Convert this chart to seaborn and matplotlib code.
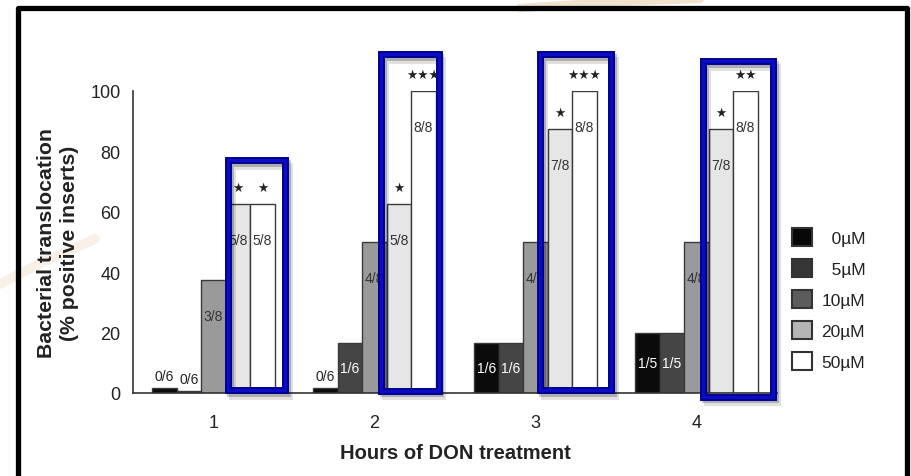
import numpy as np
import pandas as pd
import matplotlib
matplotlib.use("Agg")
import matplotlib.pyplot as plt
import matplotlib.patheffects as pe
from matplotlib.patches import Rectangle, Patch
from matplotlib.lines import Line2D
import seaborn as sns

# categories
hours = ["1", "2", "3", "4"]
doses = ["0µM", "5µM", "10µM", "20µM", "50µM"]

# % positive inserts per dose (0/6 is drawn as a thin sliver in the original)
pct_0 = [1.5, 1.5, 16.7, 20.0]
pct_5 = [0.5, 16.7, 16.7, 20.0]
pct_10 = [37.5, 50.0, 50.0, 50.0]
pct_20 = [62.5, 62.5, 87.5, 87.5]
pct_50 = [62.5, 100.0, 100.0, 100.0]

# counts written on the bars
lab_0 = ["0/6", "0/6", "1/6", "1/5"]
lab_5 = ["0/6", "1/6", "1/6", "1/5"]
lab_10 = ["3/8", "4/8", "4/8", "4/8"]
lab_20 = ["5/8", "5/8", "7/8", "7/8"]
lab_50 = ["5/8", "8/8", "8/8", "8/8"]

# significance marks
stars_20 = ["★", "★", "★", "★"]
stars_50 = ["★", "★★★", "★★★", "★★"]

# hand drawn blue highlight boxes (data units)
box_left = [0.093, 1.043, 2.031, 3.043]
box_right = [0.447, 1.398, 2.472, 3.478]
box_top = [77.0, 112.1, 112.1, 109.8]
box_bottom = [1.0, 0.8, 1.0, -1.2]

bar_cols = ["#0b0b0b", "#454545", "#9a9a9a", "#e6e6e6", "#ffffff"]
legend_cols = ["#080808", "#363636", "#5c5c5c", "#b5b5b5", "#ffffff"]

sns.set_style("white")
plt.rcParams["font.family"] = ["Liberation Sans", "DejaVu Sans"]

df = pd.DataFrame({
    "hour": hours * 5,
    "dose": np.repeat(doses, 4),
    "pct": pct_0 + pct_5 + pct_10 + pct_20 + pct_50,
})

fig = plt.figure(figsize=(9.11, 4.77), dpi=100)

# faint background swooshes of the slide
fig.add_artist(Line2D([0, 45/911, 95/911], [1-285/477, 1-262/477, 1-240/477],
                      transform=fig.transFigure, color="#e9cfae", lw=7, alpha=0.3,
                      solid_capstyle="round", zorder=0))
fig.add_artist(Line2D([520/911, 610/911, 700/911], [1-9/477, 1-3/477, 1.0],
                      transform=fig.transFigure, color="#e9cfae", lw=6, alpha=0.6, zorder=0))

# black slide frame
fig.add_artist(Line2D([17.5/911, 17.5/911, 907/911, 907/911],
                      [0, 1-9/477, 1-9/477, 0], transform=fig.transFigure,
                      color="black", lw=3.8, solid_joinstyle="round", zorder=1))

ax = fig.add_axes([133/911, 83/477, 644/911, 302/477])
ax.set_facecolor("none")

sns.barplot(data=df, x="hour", y="pct", hue="dose", order=hours, hue_order=doses,
            palette=dict(zip(doses, bar_cols)), width=0.76, gap=0, errorbar=None,
            edgecolor="#3a3a3a", linewidth=1.0, legend=False, ax=ax, zorder=2)

labels = [lab_0, lab_5, lab_10, lab_20, lab_50]
for i, cont in enumerate(ax.containers):
    for bar, txt in zip(cont, labels[i]):
        h = bar.get_height()
        xc = bar.get_x() + bar.get_width() / 2
        if h < 5:
            y, col = h + 4, "#222222"
        elif h < 25:
            y, col = h / 2, "white"
        else:
            y, col = h - 12, "#333333"
        ax.text(xc, y, txt, ha="center", va="center", fontsize=10, color=col, zorder=3)

for cont, marks in zip(ax.containers[3:], [stars_20, stars_50]):
    for bar, s in zip(cont, marks):
        xc = bar.get_x() + bar.get_width() / 2
        ax.text(xc, bar.get_height() + 5.5, s, ha="center", va="center",
                fontsize=9, color="#222222", family=["DejaVu Sans"], zorder=3)

# blue boxes round the 20 and 50 µM bars
shadow = [pe.SimpleLineShadow(offset=(2.5, -4), shadow_color="k", alpha=0.12),
          pe.SimpleLineShadow(offset=(1, -2), shadow_color="k", alpha=0.22),
          pe.Normal()]
for l, r, t, b in zip(box_left, box_right, box_top, box_bottom):
    ax.add_patch(Rectangle((l, b), r - l, t - b, fill=False, ec="#000090", lw=5,
                           joinstyle="miter", clip_on=False, zorder=5, path_effects=shadow))
    ax.add_patch(Rectangle((l, b), r - l, t - b, fill=False, ec="#0c0cc8", lw=2.2,
                           joinstyle="miter", clip_on=False, zorder=6))

ax.set_ylim(0, 100)
ax.set_yticks(range(0, 101, 20))
ax.set_xticks([0.5, 1.5, 2.5, 3.5], minor=True)
ax.tick_params(axis="y", length=3, width=1, pad=6, labelsize=13, colors="#222222")
ax.tick_params(axis="x", which="major", length=0, pad=15, labelsize=13, colors="#222222")
ax.tick_params(axis="x", which="minor", length=4, width=1, direction="out", color="#333333")
sns.despine(ax=ax)
for s in ["left", "bottom"]:
    ax.spines[s].set_color("#333333")
    ax.spines[s].set_linewidth(1.2)

ax.set_xlabel("Hours of DON treatment", fontsize=14.5, fontweight="bold", color="#222222", labelpad=9)
ax.set_ylabel("Bacterial translocation\n(% positive inserts)", fontsize=15.3,
              fontweight="bold", color="#222222", linespacing=1.25, labelpad=8)

legend_labels = ["\u2007" + doses[0], "\u2007" + doses[1]] + doses[2:]
handles = [Patch(facecolor=c, edgecolor="#333333", linewidth=1.5) for c in legend_cols]
fig.legend(handles, legend_labels, loc="upper left", bbox_to_anchor=(792/911, 1-229/477),
           frameon=False, fontsize=12.5, handlelength=1.15, handleheight=1.25,
           labelspacing=0.73, handletextpad=0.55, borderpad=0, borderaxespad=0,
           labelcolor="#222222")

fig.savefig("out.png", dpi=100)
